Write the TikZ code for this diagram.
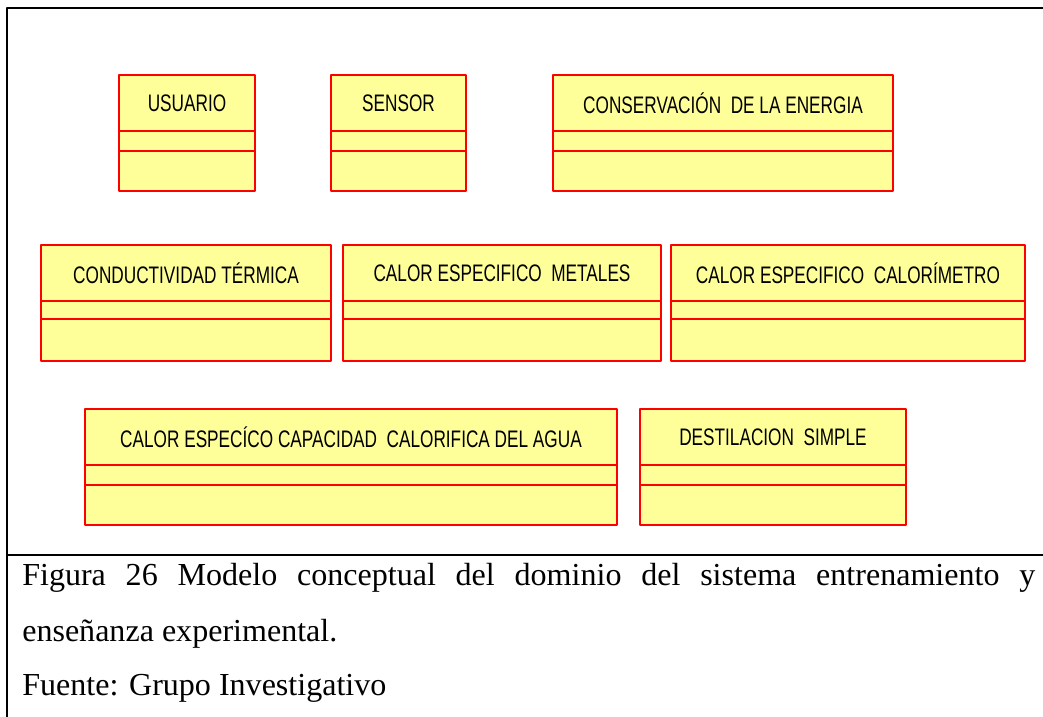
\documentclass[tikz,border=0pt]{standalone}
\usepackage{fontspec}
\setmainfont{Liberation Serif}
\newfontfamily\umlfont[FakeStretch=0.72]{Liberation Sans}
\usepackage{tikz}

\definecolor{classfill}{RGB}{255,255,153}
\definecolor{classedge}{RGB}{255,0,0}

\begin{document}
\begin{tikzpicture}[
	line cap=round,
	line join=round,
	classhead/.style={draw=classedge, fill=classfill, line width=1.4pt,
		minimum height=1.4cm, inner sep=0pt, outer sep=0pt, anchor=north west,
		font=\umlfont\fontsize{17}{20}\selectfont},
	compart/.style={draw=classedge, fill=classfill, line width=1.4pt},
	caption/.style={anchor=base west, inner sep=0pt,
		font=\fontsize{22.8}{27}\selectfont}
	]
	
	\useasboundingbox (0,0) rectangle (26.075,-17.9);
	
	% frame
	\draw[line width=1.8pt, line cap=butt] (26.2,-0.2) -- (0.175,-0.2) -- (0.175,-18.0);
	\draw[line width=1.8pt, line cap=butt] (0.175,-13.875) -- (26.2,-13.875);
	
	% first row
	\node[classhead, minimum width=3.4cm] (usuario) at (2.975,-1.875) {USUARIO};
	\draw[compart] (usuario.south west) rectangle ([yshift=-0.5cm]usuario.south east);
	\draw[compart] ([yshift=-0.5cm]usuario.south west) rectangle ([yshift=-1.5cm]usuario.south east);
	
	\node[classhead, minimum width=3.375cm] (sensor) at (8.275,-1.875) {SENSOR};
	\draw[compart] (sensor.south west) rectangle ([yshift=-0.5cm]sensor.south east);
	\draw[compart] ([yshift=-0.5cm]sensor.south west) rectangle ([yshift=-1.5cm]sensor.south east);
	
	\node[classhead, minimum width=8.5cm] (energia) at (13.825,-1.875) {CONSERVACIÓN\ \ DE LA ENERGIA};
	\draw[compart] (energia.south west) rectangle ([yshift=-0.5cm]energia.south east);
	\draw[compart] ([yshift=-0.5cm]energia.south west) rectangle ([yshift=-1.5cm]energia.south east);
	
	% second row
	\node[classhead, minimum width=7.25cm] (conductividad) at (1.025,-6.125) {CONDUCTIVIDAD TÉRMICA};
	\draw[compart] (conductividad.south west) rectangle ([yshift=-0.45cm]conductividad.south east);
	\draw[compart] ([yshift=-0.45cm]conductividad.south west) rectangle ([yshift=-1.5cm]conductividad.south east);
	
	\node[classhead, minimum width=7.95cm] (metales) at (8.575,-6.125) {CALOR ESPECIFICO\ \ METALES};
	\draw[compart] (metales.south west) rectangle ([yshift=-0.45cm]metales.south east);
	\draw[compart] ([yshift=-0.45cm]metales.south west) rectangle ([yshift=-1.5cm]metales.south east);
	
	\node[classhead, minimum width=8.85cm] (calorimetro) at (16.775,-6.125) {CALOR ESPECIFICO\ \ CALORÍMETRO};
	\draw[compart] (calorimetro.south west) rectangle ([yshift=-0.45cm]calorimetro.south east);
	\draw[compart] ([yshift=-0.45cm]calorimetro.south west) rectangle ([yshift=-1.5cm]calorimetro.south east);
	
	% third row
	\node[classhead, minimum width=13.3cm] (agua) at (2.125,-10.225) {CALOR ESPECÍCO CAPACIDAD\ \ CALORIFICA DEL AGUA};
	\draw[compart] (agua.south west) rectangle ([yshift=-0.5cm]agua.south east);
	\draw[compart] ([yshift=-0.5cm]agua.south west) rectangle ([yshift=-1.5cm]agua.south east);
	
	\node[classhead, minimum width=6.65cm] (destilacion) at (16.0,-10.225) {DESTILACION\ \ SIMPLE};
	\draw[compart] (destilacion.south west) rectangle ([yshift=-0.5cm]destilacion.south east);
	\draw[compart] ([yshift=-0.5cm]destilacion.south west) rectangle ([yshift=-1.5cm]destilacion.south east);
	
	% caption
	\node[caption] (caption1) at (0.55,-14.625)
	{\makebox[25.325cm][s]{Figura 26 Modelo conceptual del dominio del sistema entrenamiento y}};
	\node[caption] (caption2) at (0.55,-16.025) {enseñanza experimental.};
	\node[caption] (caption3) at (0.55,-17.375) {Fuente: Grupo Investigativo};
	
\end{tikzpicture}
\end{document}
